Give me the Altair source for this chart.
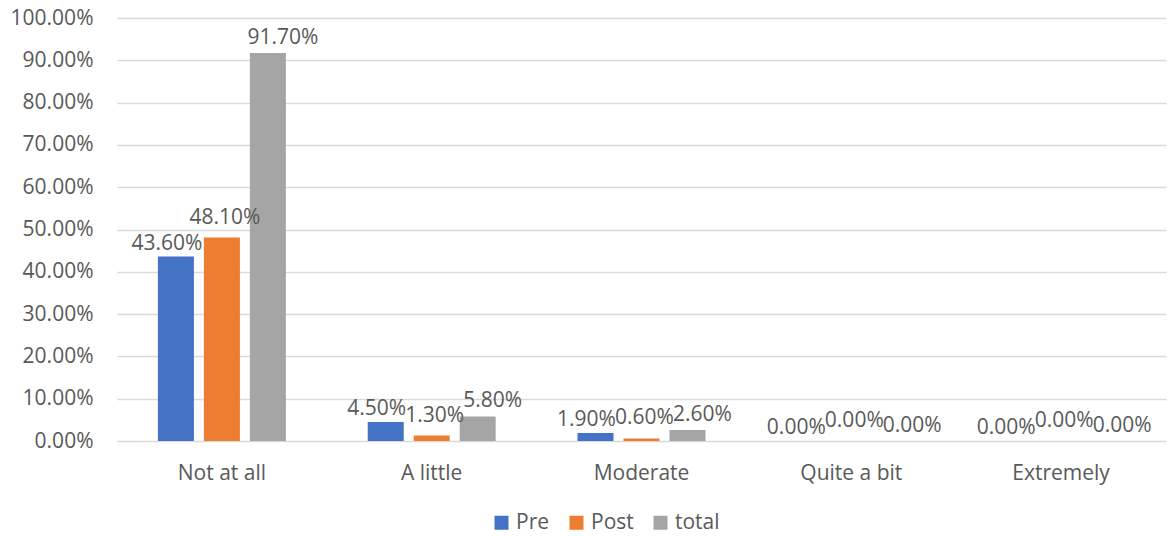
import altair as alt
import pandas as pd

categories = ["Not at all", "A little", "Moderate", "Quite a bit", "Extremely"]
series = ["Pre", "Post", "total"]
pre = [0.436, 0.045, 0.019, 0.0, 0.0]
post = [0.481, 0.013, 0.006, 0.0, 0.0]
total = [0.917, 0.058, 0.026, 0.0, 0.0]
colors = ["#4472C4", "#ED7D31", "#A5A5A5"]

rows = []
for i, c in enumerate(categories):
    for s, vals in zip(series, [pre, post, total]):
        rows.append({"category": c, "series": s, "value": vals[i]})
df = pd.DataFrame(rows)

FONT = "Open Sans"
TXT = "#595959"
FS = 21

x_enc = alt.X("category:N", sort=categories, title=None,
              scale=alt.Scale(paddingInner=0.39, paddingOuter=0.195),
              axis=alt.Axis(labelAngle=0, ticks=False, domain=False, grid=False,
                            labelFont=FONT, labelFontSize=FS, labelColor=TXT,
                            labelPadding=21, labelBaseline="top"))
xo_enc = alt.XOffset("series:N", sort=series,
                     scale=alt.Scale(paddingInner=0.217, paddingOuter=0))
y_enc = alt.Y("value:Q", title=None,
              scale=alt.Scale(domain=[0, 1], nice=False),
              axis=alt.Axis(values=[i / 10 for i in range(11)], format=".2%",
                            ticks=False, domain=False, grid=True,
                            gridColor="#D9D9D9", gridWidth=1.3,
                            labelFont=FONT, labelFontSize=FS, labelColor=TXT,
                            labelPadding=24))

base = alt.Chart(df)

bars = base.mark_bar().encode(
    x=x_enc, xOffset=xo_enc, y=y_enc,
    color=alt.Color("series:N", sort=series,
                    scale=alt.Scale(domain=series, range=colors),
                    legend=alt.Legend(title=None, orient="none", direction="horizontal",
                                      legendX=374, legendY=494,
                                      symbolType="square", symbolSize=196,
                                      symbolStrokeWidth=0, labelFont=FONT,
                                      labelFontSize=FS, labelColor=TXT,
                                      labelOffset=4, columnPadding=16)),
)

offsets = {"Pre": (-9, -13), "Post": (3, -20), "total": (15, -15)}
texts = []
for s in series:
    dx, dy = offsets[s]
    texts.append(
        base.transform_filter(alt.datum.series == s).mark_text(
            font=FONT, fontSize=FS, color=TXT, baseline="middle", align="center",
            dx=dx, dy=dy
        ).encode(x=alt.X("category:N", sort=categories),
                 xOffset=alt.XOffset("series:N", sort=series),
                 y=alt.Y("value:Q"),
                 text=alt.Text("value:Q", format=".2%"))
    )

chart = alt.layer(bars, *texts).properties(
    width=1049, height=423,
    background="white",
    autosize=alt.AutoSizeParams(type="none"),
    padding={"left": 117, "top": 18, "right": 10, "bottom": 95},
).configure_view(stroke=None)

chart.save("out.html", embed_options={"renderer": "svg", "actions": False})
